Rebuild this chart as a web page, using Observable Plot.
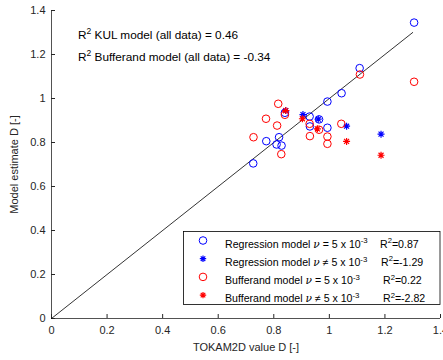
<!DOCTYPE html>
<html>
<head>
<meta charset="utf-8">
<script src="https://cdn.jsdelivr.net/npm/d3@7"></script>
<script src="https://cdn.jsdelivr.net/npm/@observablehq/plot@0.6"></script>
<style>
  html, body { margin: 0; padding: 0; background: #fff; }
  body { width: 443px; height: 360px; overflow: hidden; }
</style>
</head>
<body>
<script>
// ---- data ----
const ticks = [0, 0.2, 0.4, 0.6, 0.8, 1, 1.2, 1.4];

// Regression model, nu = 5e-3 (blue circles)
const regEqX = [1.305, 1.109, 1.044, 0.993, 0.993, 0.963, 0.929, 0.930, 0.840, 0.819, 0.773, 0.810, 0.828, 0.726];
const regEqY = [1.345, 1.138, 1.024, 0.986, 0.867, 0.905, 0.918, 0.873, 0.935, 0.824, 0.806, 0.791, 0.786, 0.705];
// Regression model, nu != 5e-3 (blue stars)
const regNeX = [0.843, 0.905, 0.960, 1.062, 1.186];
const regNeY = [0.945, 0.927, 0.906, 0.874, 0.838];
// Bufferand model, nu = 5e-3 (red circles)
const bufEqX = [1.305, 1.110, 0.816, 0.840, 0.772, 0.812, 0.727, 0.827, 0.929, 0.930, 0.963, 0.993, 0.993, 1.043];
const bufEqY = [1.076, 1.109, 0.976, 0.926, 0.908, 0.877, 0.824, 0.747, 0.885, 0.829, 0.858, 0.827, 0.794, 0.885];
// Bufferand model, nu != 5e-3 (red stars)
const bufNeX = [0.843, 0.903, 0.957, 1.062, 1.186];
const bufNeY = [0.945, 0.908, 0.862, 0.805, 0.742];
// identity line
const diagX = [0, 1.3];
const diagY = [0, 1.3];

const legendLabels = ["Regression model", "Regression model", "Bufferand model", "Bufferand model"];
const legendRel = ["=", "≠", "=", "≠"];
const legendR2 = ["0.87", "-1.29", "0.22", "-2.82"];
const annotations = [["KUL model (all data) = 0.46"], ["Bufferand model (all data) = -0.34"]];

// ---- helpers ----
const zip = (xs, ys) => xs.map((x, i) => ({x, y: ys[i]}));
const BLUE = "#0000ff", RED = "#ff0000", AX = "#262626";
const star = {
  draw(ctx, size) {
    const r = Math.sqrt(size / Math.PI), d = r * Math.SQRT1_2;
    ctx.moveTo(-r, 0); ctx.lineTo(r, 0);
    ctx.moveTo(0, -r); ctx.lineTo(0, r);
    ctx.moveTo(-d, -d); ctx.lineTo(d, d);
    ctx.moveTo(-d, d); ctx.lineTo(d, -d);
  }
};
const fmt = d => String(+d.toFixed(1));

const chart = Plot.plot({
  width: 443,
  height: 360,
  marginLeft: 51,
  marginTop: 10,
  marginRight: 3,
  marginBottom: 42,
  style: {fontFamily: "'Liberation Sans', Arial, sans-serif", fontSize: "11px", color: AX, background: "#fff", overflow: "visible"},
  x: {domain: [0, 1.4]},
  y: {domain: [0, 1.4]},
  marks: [
    Plot.axisX({ticks, tickFormat: fmt, tickSize: -4, tickPadding: 12, fontSize: 11, stroke: AX, fill: AX,
      label: "TOKAM2D value D [-]", labelAnchor: "center", labelArrow: "none", labelOffset: 32}),
    Plot.axisY({ticks, tickFormat: fmt, tickSize: -4, tickPadding: 10, fontSize: 11, stroke: AX, fill: AX,
      label: "Model estimate D [-]", labelAnchor: "center", labelArrow: "none", labelOffset: 41}),
    Plot.ruleY([0], {stroke: AX, strokeWidth: 0.8}),
    Plot.ruleX([0], {stroke: AX, strokeWidth: 0.8}),
    Plot.line(zip(diagX, diagY), {x: "x", y: "y", stroke: "#000", strokeWidth: 0.8}),
    Plot.dot(zip(regEqX, regEqY), {x: "x", y: "y", r: 3.8, stroke: BLUE, strokeWidth: 1}),
    Plot.dot(zip(regNeX, regNeY), {x: "x", y: "y", r: 3.5, stroke: BLUE, strokeWidth: 1.2, symbol: star}),
    Plot.dot(zip(bufEqX, bufEqY), {x: "x", y: "y", r: 3.8, stroke: RED, strokeWidth: 1}),
    Plot.dot(zip(bufNeX, bufNeY), {x: "x", y: "y", r: 3.5, stroke: RED, strokeWidth: 1.2, symbol: star})
  ]
});
document.body.appendChild(chart);

// ---- annotations and legend (MATLAB-style text with superscripts) ----
const svg = d3.select(chart);
const FONT = "'Liberation Sans', Arial, sans-serif";

function r2text(g, x, y, rest, size) {
  const t = g.append("text").attr("x", x).attr("y", y).attr("text-anchor", "start")
    .attr("font-family", FONT).attr("font-size", size).attr("fill", "#000");
  t.append("tspan").text("R");
  t.append("tspan").attr("dy", -size * 0.4).attr("font-size", size * 0.72).text("2");
  t.append("tspan").attr("dy", size * 0.4).text(rest);
  return t;
}
annotations.forEach((a, i) => r2text(svg, 78, 39 + i * 22, " " + a[0], 11.8));

const lg = svg.append("g").attr("text-anchor", "start");
lg.append("rect").attr("x", 183.5).attr("y", 231.5).attr("width", 256.5).attr("height", 73)
  .attr("fill", "#fff").attr("stroke", "#000").attr("stroke-width", 0.8);
const symbols = [d3.symbolCircle, star, d3.symbolCircle, star];
const colors = [BLUE, BLUE, RED, RED];
const r2x = [380, 381, 383, 383];
legendLabels.forEach((lab, i) => {
  const cy = 240.5 + i * 18.2;
  const r = i % 2 === 0 ? 3.8 : 3.2;
  lg.append("path").attr("transform", `translate(203,${cy})`)
    .attr("d", d3.symbol(symbols[i], Math.PI * r * r)())
    .attr("fill", "none").attr("stroke", colors[i]).attr("stroke-width", i % 2 === 0 ? 1 : 1.2);
  const t = lg.append("text").attr("x", 225).attr("y", cy + 7).attr("text-anchor", "start")
    .attr("font-family", FONT).attr("font-size", 10.6).attr("fill", "#000");
  t.append("tspan").text(lab + " ");
  t.append("tspan").attr("font-family", "'DejaVu Serif', serif").attr("font-style", "italic").text("ν");
  t.append("tspan").text(" " + legendRel[i] + " 5 x 10");
  t.append("tspan").attr("dy", -4.2).attr("font-size", 7.8).text("-3");
  r2text(lg, r2x[i], cy + 7, "=" + legendR2[i], 10.6);
});
</script>
</body>
</html>
